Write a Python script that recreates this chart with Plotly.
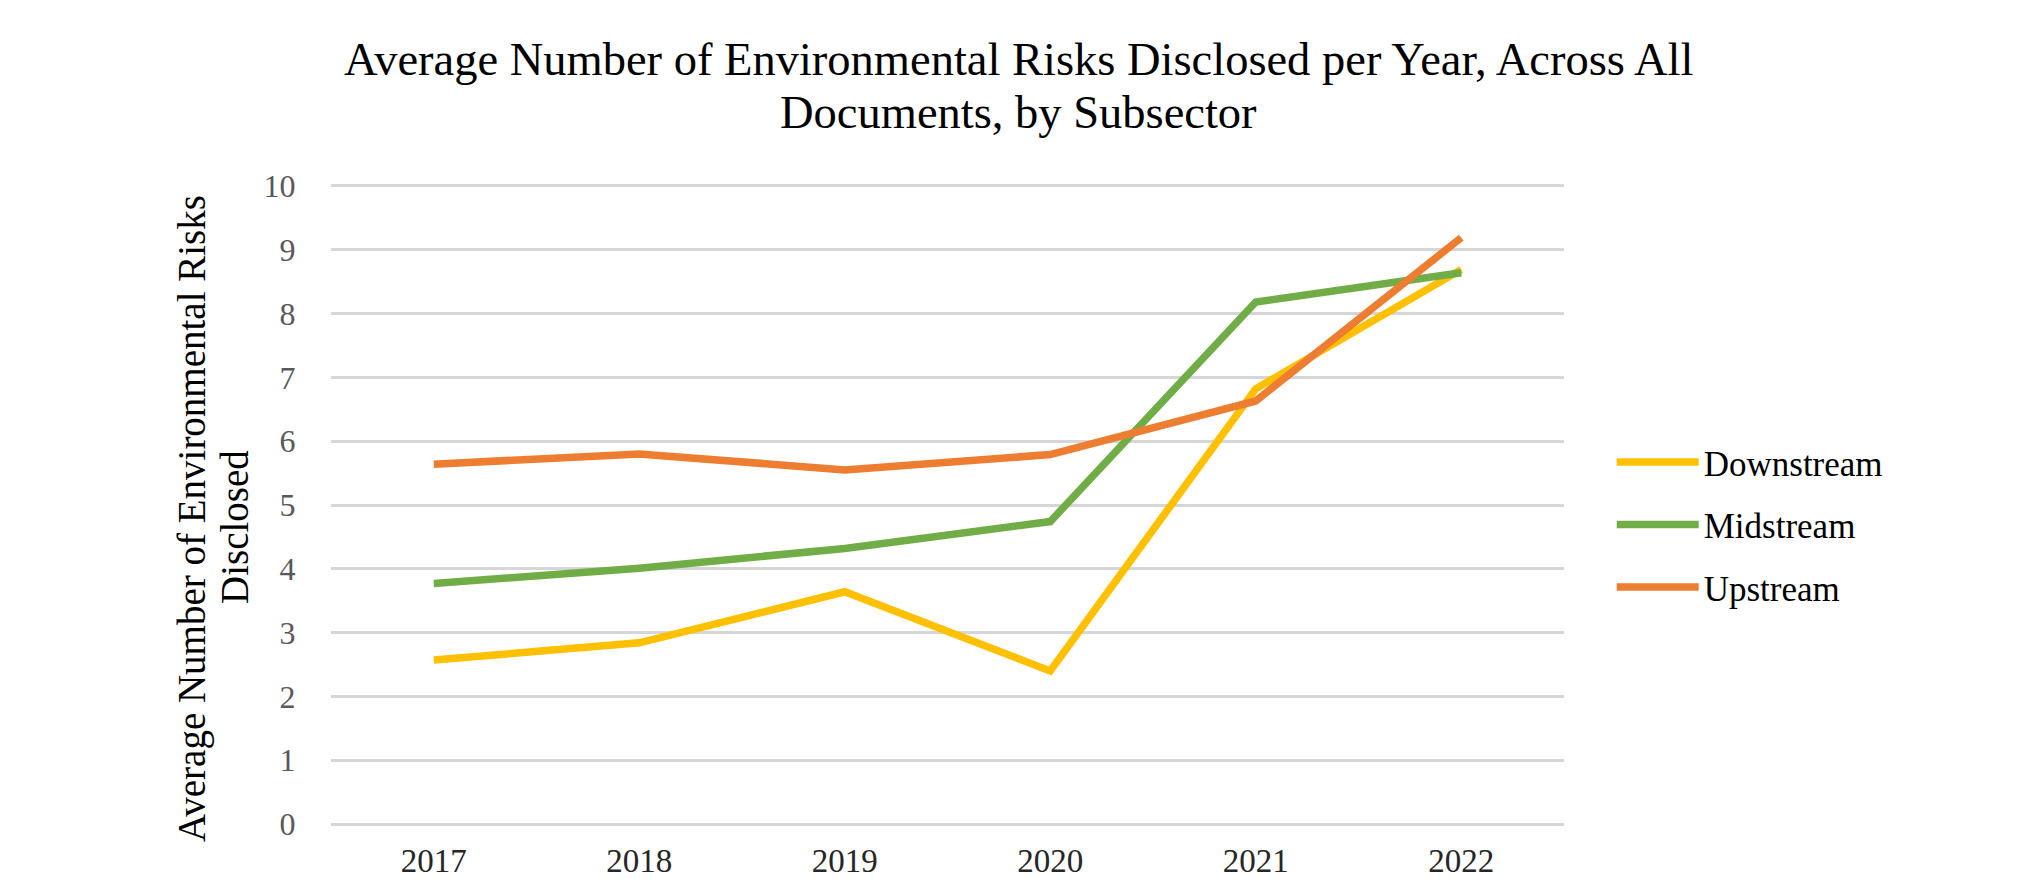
import plotly.graph_objects as go

# Average number of environmental risks disclosed per year, by subsector
years = ["2017", "2018", "2019", "2020", "2021", "2022"]
downstream = [2.57, 2.84, 3.64, 2.40, 6.82, 8.69]
midstream = [3.77, 4.01, 4.32, 4.74, 8.18, 8.64]
upstream = [5.64, 5.80, 5.55, 5.79, 6.63, 9.19]

series_names = ["Downstream", "Midstream", "Upstream"]
series_values = [downstream, midstream, upstream]
series_colors = ["#FFC000", "#70AD47", "#ED7D31"]

y_ticks = list(range(0, 11))

title_lines = [
    "Average Number of Environmental Risks Disclosed per Year, Across All",
    "Documents, by Subsector",
]
y_title_lines = ["Average Number of Environmental Risks", "Disclosed"]

SERIF = "Liberation Serif, Times New Roman, serif"

# page geometry (px)
W, H = 2035, 879
L, R, T, B = 331, 471, 184, 53
PW, PH = W - L - R, H - T - B


def px_x(x):
    return (x - L) / PW


def px_y(y):
    return 1 - (y - T) / PH


fig = go.Figure()
for name, vals, color in zip(series_names, series_values, series_colors):
    fig.add_trace(go.Scatter(
        x=years, y=vals, name=name, mode="lines",
        line=dict(color=color, width=7.5),
        legendgroup=name,
    ))

annotations = []
# chart title, two centred lines
for text, yc in zip(title_lines, [59, 113]):
    annotations.append(dict(
        text=text, showarrow=False, xref="paper", yref="paper",
        x=px_x(W / 2 + 1), y=px_y(yc), xanchor="center", yanchor="middle",
        font=dict(family=SERIF, size=46.5, color="#000000"),
    ))
# rotated y-axis title, two lines
for text, xc, yc in zip(y_title_lines, [192, 234], [519, 527]):
    annotations.append(dict(
        text=text, textangle=-90, showarrow=False, xref="paper", yref="paper",
        x=px_x(xc), y=px_y(yc), xanchor="center", yanchor="middle",
        font=dict(family=SERIF, size=39, color="#000000"),
    ))

fig.update_layout(
    width=W, height=H,
    margin=dict(l=L, r=R, t=T, b=B),
    paper_bgcolor="white", plot_bgcolor="white",
    xaxis=dict(
        type="category", range=[-0.5, 5.5], automargin=False,
        showgrid=False, zeroline=False, showline=False,
        ticks="outside", ticklen=5, tickcolor="rgba(0,0,0,0)",
        tickfont=dict(family=SERIF, size=33, color="#262626"),
    ),
    yaxis=dict(
        range=[-0.03, 10.03], tickvals=y_ticks, automargin=False,
        showgrid=True, gridcolor="#D6D6D6", gridwidth=2.5,
        zeroline=False, showline=False,
        ticks="outside", ticklen=28, tickcolor="rgba(0,0,0,0)",
        tickfont=dict(family=SERIF, size=32, color="#595959"),
    ),
    legend=dict(
        font=dict(family=SERIF, size=35, color="#000000"),
        xref="container", x=0.792, xanchor="left",
        yref="container", y=0.403, yanchor="middle",
        tracegroupgap=14, itemwidth=82,
        bgcolor="rgba(0,0,0,0)",
    ),
    annotations=annotations,
)

fig.write_html("out.html")
